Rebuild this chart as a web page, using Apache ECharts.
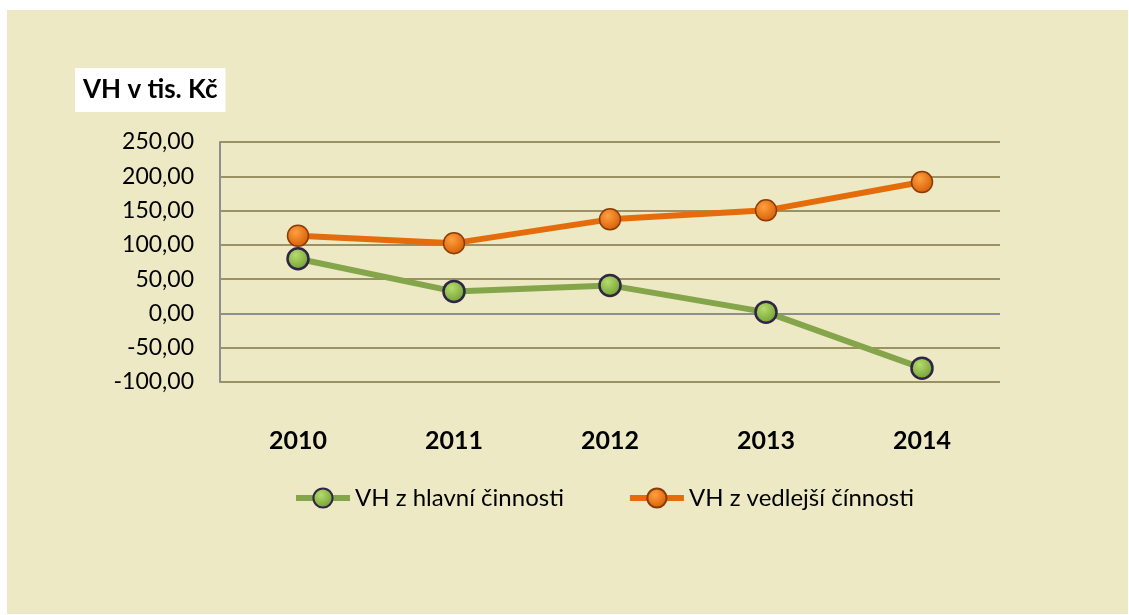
<!DOCTYPE html>
<html>
<head>
<meta charset="utf-8">
<script src="https://cdn.jsdelivr.net/npm/echarts@6/dist/echarts.min.js"></script>
<style>
html,body{margin:0;padding:0;background:#ffffff;}
#chart{position:absolute;left:0;top:0;width:1129px;height:615px;}
</style>
</head>
<body>
<div id="chart"></div>
<script>
var categories = ['2010', '2011', '2012', '2013', '2014'];
var hlavni = [79.8, 32.1, 40.9, 1.9, -79.8];
var vedlejsi = [113.3, 102.5, 137.2, 150.3, 191.6];
var seriesNames = ['VH z hlavní činnosti', 'VH z vedlejší čínnosti'];
var yTitle = 'VH v tis. Kč';

var FONT = 'Lato';
var olive = '#9b9163';
var zeroGray = '#8e8e8e';

function radial(c1, c2) {
  return new echarts.graphic.RadialGradient(0.4, 0.35, 0.7, [
    {offset: 0, color: c1},
    {offset: 1, color: c2}
  ]);
}

var chart = echarts.init(document.getElementById('chart'), null, {renderer: 'canvas'});
chart.setOption({
  backgroundColor: '#ffffff',
  animation: false,
  graphic: [{
    type: 'rect', z: -10, silent: true,
    shape: {x: 7, y: 10, width: 1121, height: 604},
    style: {fill: '#ede9c4'}
  }],
  title: {
    text: yTitle,
    left: 75, top: 68,
    padding: [9, 8, 9, 8],
    backgroundColor: '#ffffff',
    textStyle: {fontFamily: FONT, fontWeight: 'bold', fontSize: 26, color: '#000000', lineHeight: 26}
  },
  grid: {left: 220, top: 142, width: 780, height: 240, containLabel: false},
  legend: {
    left: 288, top: 481,
    itemWidth: 54, itemHeight: 24, itemGap: 63,
    lineStyle: {width: 6},
    textStyle: {fontFamily: FONT, fontSize: 24, color: '#000000', padding: [0, 0, 0, 0]},
    data: seriesNames
  },
  xAxis: {
    type: 'category',
    data: categories,
    boundaryGap: true,
    axisLine: {show: false},
    axisTick: {show: false},
    axisLabel: {margin: 46, fontFamily: FONT, fontWeight: 'bold', fontSize: 25, color: '#000000'},
    splitLine: {show: false}
  },
  yAxis: {
    type: 'value',
    min: -100, max: 250, interval: 50,
    axisLine: {show: true, lineStyle: {color: zeroGray, width: 2}},
    axisTick: {show: false},
    axisLabel: {
      margin: 26, fontFamily: FONT, fontSize: 23, color: '#000000',
      formatter: function (v) { return v.toFixed(2).replace('.', ','); }
    },
    splitLine: {show: true, lineStyle: {width: 2, color: [olive, olive, zeroGray, olive, olive, olive, olive, olive]}}
  },
  series: [{
    name: seriesNames[0],
    type: 'line',
    data: hlavni,
    symbol: 'circle', symbolSize: 21,
    lineStyle: {color: '#84a54a', width: 6},
    itemStyle: {color: radial('#b5dc6c', '#6d9a2e'), borderColor: '#2f2545', borderWidth: 2.5},
    z: 3
  }, {
    name: seriesNames[1],
    type: 'line',
    data: vedlejsi,
    symbol: 'circle', symbolSize: 21,
    lineStyle: {color: '#e46c0a', width: 6},
    itemStyle: {color: radial('#ffa040', '#d45a00'), borderColor: '#8a3c08', borderWidth: 1.5},
    z: 4
  }]
});
</script>
</body>
</html>
